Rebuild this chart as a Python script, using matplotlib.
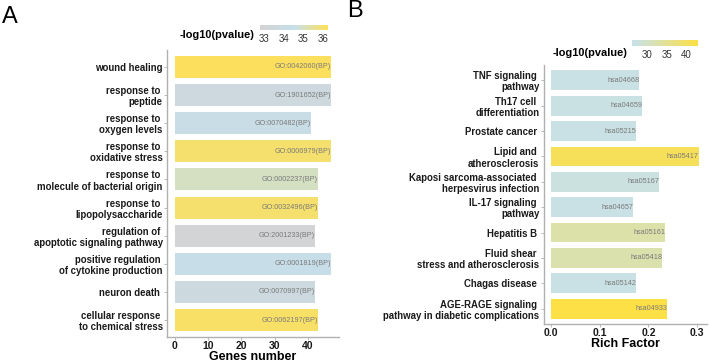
import matplotlib
matplotlib.use('Agg')
import matplotlib.pyplot as plt
from matplotlib.colors import LinearSegmentedColormap, Normalize
from matplotlib.cm import ScalarMappable

plt.rcParams['font.family'] = ['Liberation Sans', 'DejaVu Sans']

# panel A: GO terms
go_terms = ['wound healing', 'response to \npeptide', 'response to \noxygen levels',
            'response to \noxidative stress', 'response to \nmolecule of bacterial origin',
            'response to \nlipopolysaccharide', 'regulation of \napoptotic signaling pathway',
            'positive regulation \nof cytokine production', 'neuron death ',
            'cellular response \nto chemical stress']
go_ids = ['GO:0042060(BP)', 'GO:1901652(BP)', 'GO:0070482(BP)', 'GO:0006979(BP)',
          'GO:0002237(BP)', 'GO:0032496(BP)', 'GO:2001233(BP)', 'GO:0001819(BP)',
          'GO:0070997(BP)', 'GO:0062197(BP)']
go_genes = [47, 47, 41, 47, 43, 43, 42, 47, 42, 43]
go_logp = [36.2, 33.6, 34.2, 36.0, 35.0, 36.0, 33.0, 34.4, 33.7, 36.1]

# panel B: KEGG pathways
kegg_terms = ['TNF signaling \npathway', 'Th17 cell \ndifferentiation', 'Prostate cancer ',
              'Lipid and \natherosclerosis', 'Kaposi sarcoma-associated \nherpesvirus infection',
              'IL-17 signaling \npathway', 'Hepatitis B ', 'Fluid shear \nstress and atherosclerosis',
              'Chagas disease ', 'AGE-RAGE signaling \npathway in diabetic complications']
kegg_ids = ['hsa04668', 'hsa04659', 'hsa05215', 'hsa05417', 'hsa05167',
            'hsa04657', 'hsa05161', 'hsa05418', 'hsa05142', 'hsa04933']
kegg_rich = [0.181, 0.187, 0.175, 0.303, 0.222, 0.169, 0.234, 0.228, 0.175, 0.239]
kegg_logp = [27.0, 27.2, 27.0, 41.0, 27.5, 27.0, 33.0, 32.5, 27.0, 43.0]

cmap_a = LinearSegmentedColormap.from_list('a', ['#d3d3d3', '#c6dfea', '#fde05a'])
cmap_b = LinearSegmentedColormap.from_list('b', ['#c6e1ec', '#fde045'])
norm_a = Normalize(32.8, 36.25)
norm_b = Normalize(26.2, 43.0)

W, H = 709, 362
fig = plt.figure(figsize=(W / 100, H / 100), dpi=100)


def box(x0, y0, x1, y1):
    return [x0 / W, 1 - y1 / H, (x1 - x0) / W, (y1 - y0) / H]


def draw(ax, terms, ids, vals, logp, cmap, norm, xlim, ticks, ticklabels, xlabel):
    ypos = list(range(len(terms)))
    ax.barh(ypos, vals, height=0.78, color=cmap(norm(logp)))
    for y, v, t in zip(ypos, vals, ids):
        ax.text(v, y, t, ha='right', va='center', fontsize=5.2, color='#7a7a7a')
    ax.set_ylim(len(terms) - 0.4, -0.6)
    ax.set_xlim(*xlim)
    ax.set_yticks(ypos)
    ax.set_yticklabels(terms, fontsize=6.9, fontweight='bold', color='#1a1a1a',
                       linespacing=1.15)
    ax.set_xticks(ticks)
    ax.set_xticklabels(ticklabels, fontsize=7.5, fontweight='bold', color='#1a1a1a')
    ax.set_xlabel(xlabel, fontsize=9, fontweight='bold', labelpad=0)
    for s in ['top', 'right']:
        ax.spines[s].set_visible(False)
    for s in ['left', 'bottom']:
        ax.spines[s].set_color('#b0b0b0')
        ax.spines[s].set_linewidth(1.0)
    ax.tick_params(axis='both', length=2, width=0.6, color='#b0b0b0', pad=1)


ax1 = fig.add_axes(box(167, 50, 339, 337))
draw(ax1, go_terms, go_ids, go_genes, go_logp, cmap_a, norm_a,
     (-2.35, 49.35), [0, 10, 20, 30, 40], ['0', '10', '20', '30', '40'], 'Genes number')

ax2 = fig.add_axes(box(543.5, 65, 706.5, 324))
draw(ax2, kegg_terms, kegg_ids, kegg_rich, kegg_logp, cmap_b, norm_b,
     (-0.0152, 0.319), [0, 0.1, 0.2, 0.3], ['0.0', '0.1', '0.2', '0.3'], 'Rich Factor')

# colorbars
cax1 = fig.add_axes(box(260, 25, 328, 30))
cb1 = fig.colorbar(ScalarMappable(norm=norm_a, cmap=cmap_a), cax=cax1, orientation='horizontal')
cb1.set_ticks([33, 34, 35, 36])
cb1.outline.set_visible(False)
cax1.tick_params(length=0, labelsize=7, pad=3, labelcolor='#333333')
fig.text(217 / W, 1 - 35 / H, '-log10(pvalue)', ha='center', va='center',
         fontsize=7.9, fontweight='bold')

cax2 = fig.add_axes(box(632, 40, 698, 46))
cb2 = fig.colorbar(ScalarMappable(norm=norm_b, cmap=cmap_b), cax=cax2, orientation='horizontal')
cb2.set_ticks([30, 35, 40])
cb2.outline.set_visible(False)
cax2.tick_params(length=0, labelsize=7, pad=3, labelcolor='#333333')
fig.text(590 / W, 1 - 53 / H, '-log10(pvalue)', ha='center', va='center',
         fontsize=7.9, fontweight='bold')

fig.text(2 / W, 1 - 17 / H, 'A', ha='left', va='center', fontsize=17)
fig.text(347 / W, 1 - 11 / H, 'B', ha='left', va='center', fontsize=17)

fig.savefig('out.png', dpi=100)
